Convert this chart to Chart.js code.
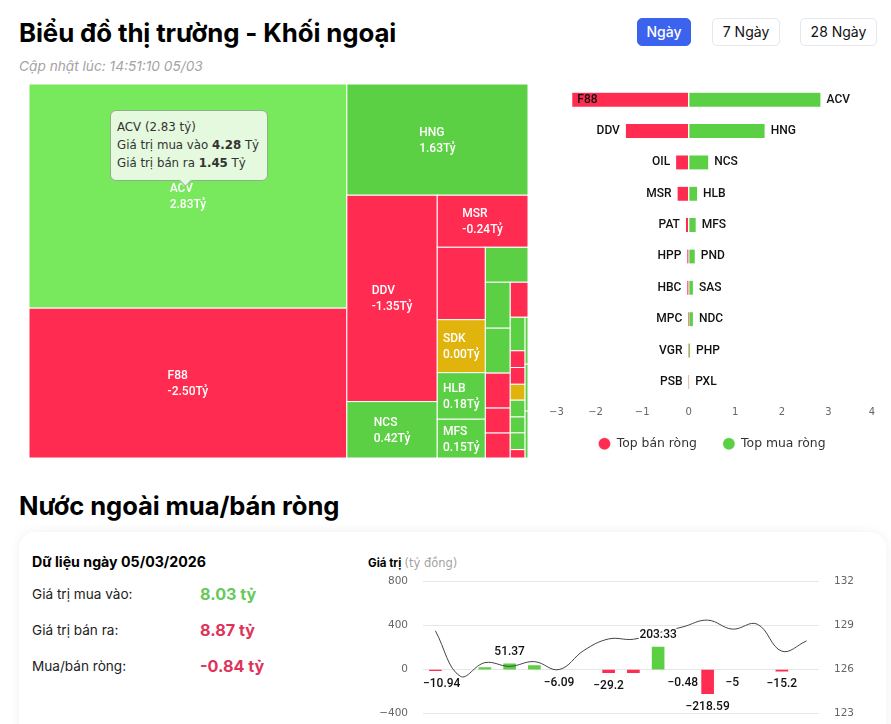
<!DOCTYPE html>
<html lang="vi">
<head>
<meta charset="utf-8">
<title>Biểu đồ thị trường - Khối ngoại</title>
<script src="https://cdn.jsdelivr.net/npm/chart.js@4"></script>
<style>
    html,body{margin:0;padding:0;width:891px;height:724px;overflow:hidden;background:#fff;font-family:Inter,sans-serif;color:#000;}
    .abs{position:absolute;white-space:nowrap;}
    canvas{position:absolute;display:block;}
    h1,h2{margin:0;font-weight:700;line-height:32px;letter-spacing:-0.1px;}
    h1{font-size:25.8px;}
    h2{font-size:25.6px;}
    .btn{box-sizing:border-box;height:28px;top:18px;border:1px solid #e5e7eb;border-radius:5px;font-size:14px;line-height:26px;text-align:center;color:#111;}
    .btn.on{background:#3b63ee;border-color:#3b63ee;color:#fff;font-weight:500;}
    .card{left:19px;top:532px;width:867px;height:300px;border-radius:16px;box-shadow:0 0 12px rgba(0,0,0,.06);background:#fff;}
    .row{left:32px;font-size:13.6px;color:#222;}
    .val{left:200px;font-size:16.2px;font-weight:700;}
    #tip{left:110px;top:110px;width:158px;height:71px;box-sizing:border-box;padding:7px 6px;background:#e4f9de;border:1px solid #8fae8a;border-radius:6px;
         font:11.8px/18px "DejaVu Sans",sans-serif;color:#333;}
    #tip:after{content:"";position:absolute;left:70px;top:65px;width:8px;height:8px;background:#e4f9de;border-right:1px solid #8fae8a;border-bottom:1px solid #8fae8a;transform:rotate(45deg);}
</style>
</head>
<body>
<h1 class="abs" style="left:19px;top:17px">Biểu đồ thị trường - Khối ngoại</h1>
<div class="abs" style="left:19px;top:58px;font-size:13.7px;font-style:italic;color:#a3a3a3">Cập nhật lúc: 14:51:10 05/03</div>
<div class="abs btn on" style="left:637px;width:54px">Ngày</div>
<div class="abs btn" style="left:712px;width:68px">7 Ngày</div>
<div class="abs btn" style="left:800px;width:77px">28 Ngày</div>

<canvas id="treemapChart" width="499" height="374" style="left:29px;top:84px"></canvas>
<div class="abs" id="tip"></div>
<canvas id="topChart" width="345" height="393" style="left:540px;top:84px"></canvas>

<h2 class="abs" style="left:19px;top:490px">Nước ngoài mua/bán ròng</h2>
<div class="abs card"></div>
<div class="abs" style="left:32px;top:553px;font-size:14.2px;font-weight:700">Dữ liệu ngày 05/03/2026</div>
<div class="abs row" style="top:586px">Giá trị mua vào:</div>
<div class="abs row" style="top:622px">Giá trị bán ra:</div>
<div class="abs row" style="top:658px">Mua/bán ròng:</div>
<div class="abs val" style="top:584px;color:#66c95a">8.03 tỷ</div>
<div class="abs val" style="top:620px;color:#e0335a">8.87 tỷ</div>
<div class="abs val" style="top:656px;color:#e0335a">-0.84 tỷ</div>
<div class="abs" style="left:368px;top:556px;font-size:11.5px"><b>Giá trị</b> <span style="color:#a3a3a3;font-family:'DejaVu Sans'">(tỷ đồng)</span></div>
<canvas id="flowChart" width="500" height="175" style="left:370px;top:560px"></canvas>

<script>
const RED = "#ff2b50";
const GREEN = "#5cd044";
const GREEN_HOVER = "#78e85c";
const YELLOW = "#e0b40c";

// -------------------- TREEMAP DATA --------------------
const cellNames = ["ACV","F88","HNG","DDV","NCS","MSR","OIL","SDK","HLB","MFS","PND","SAS","NDC","PAT","HPP","HBC","MPC","PHP","VGR","PSB","PXL","BSR","VTP","GEE","QNS","TCX","VEA","MCH"];
// buy + sell value, this is what sets the area of a cell
const cellSizes = [5.73,3.83,1.62,1.5,0.41,0.38,0.28,0.205,0.18,0.15,0.12,0.092,0.09,0.07,0.05,0.05,0.05,0.04,0.02,0.02,0.019,0.02,0.019,0.02,0.01,0.011,0.011,0.011];
const cellNet = [2.83,-2.5,1.63,-1.35,0.42,-0.24,-0.3,0,0.18,0.15,0.13,0.09,0.09,-0.06,-0.03,-0.03,-0.01,0.03,-0.005,-0.005,0,0.01,0.01,0.01,-0.003,0.004,0.003,0.002];
// how many cells go in each strip, strips alternate column / row
const stripCounts = [2,1,2,1,4,1,5,1,8,3];
const stripIsColumn = [true,false,true,false,true,false,true,false,true,true];
const labelledCells = ["ACV","F88","HNG","DDV","NCS","MSR","SDK","HLB","MFS"];
const hoverCell = "ACV";
const tipBuy = 4.28;
const tipSell = 1.45;

// -------------------- TOP NET BUY / SELL DATA --------------------
const sellNames = ["F88","DDV","OIL","MSR","PAT","HPP","HBC","MPC","VGR","PSB"];
const sellValues = [-2.5,-1.35,-0.27,-0.24,-0.06,-0.03,-0.03,-0.01,-0.005,-0.002];
const buyNames = ["ACV","HNG","NCS","HLB","MFS","PND","SAS","NDC","PHP","PXL"];
const buyValues = [2.83,1.63,0.42,0.18,0.15,0.13,0.09,0.09,0.03,0.01];

// -------------------- NET FLOW DATA --------------------
const sessionDates = ["09/02","10/02","11/02","12/02","13/02","23/02","24/02","25/02","26/02","27/02","02/03","03/03","04/03","05/03a","05/03b","05/03"];
const netValues = [-10.94,null,18,51.37,36,-6.09,null,-29.2,-29,203.33,-0.48,-218.59,-5,null,-15.2,-0.84];
const hiddenNetLabels = [2,4,8,15];
const indexValues = [128.64,125.55,126.47,126.22,126.54,126.0,127.3,128.08,128.06,128.5,128.9,129.36,128.75,129.09,127.25,127.95];

function minusSign(v){ return String(v).replace("-","\u2212"); }

// -------------------- TREEMAP LAYOUT --------------------
// slices the unit square strip by strip, sizes only come from cellSizes
function layoutCells(){
    const cells = [];
    let rect = {x:0,y:0,w:1,h:1};
    let total = cellSizes.reduce((a,b)=>a+b,0);
    let idx = 0;
    stripCounts.forEach((count,s)=>{
        const sizes = cellSizes.slice(idx,idx+count);
        const sum = sizes.reduce((a,b)=>a+b,0);
        const share = sum/total;
        let offset = 0;
        sizes.forEach((size,i)=>{
            const part = size/sum;
            const c = stripIsColumn[s]
                ? {x:rect.x,y:rect.y+offset*rect.h,w:rect.w*share,h:rect.h*part}
                : {x:rect.x+offset*rect.w,y:rect.y,w:rect.w*part,h:rect.h*share};
            offset += part;
            c.name = cellNames[idx+i];
            c.net = cellNet[idx+i];
            cells.push(c);
        });
        if(stripIsColumn[s]){ rect = {x:rect.x+rect.w*share,y:rect.y,w:rect.w*(1-share),h:rect.h}; }
        else { rect = {x:rect.x,y:rect.y+rect.h*share,w:rect.w,h:rect.h*(1-share)}; }
        total -= sum;
        idx += count;
    });
    return cells;
}

const treemapCells = layoutCells();

const treemapPlugin = {
    id:"treemapCells",
    beforeDatasetsDraw(chart){
        const {ctx,scales:{x,y}} = chart;
        treemapCells.forEach(c=>{
            const x0 = x.getPixelForValue(c.x), x1 = x.getPixelForValue(c.x+c.w);
            const y0 = y.getPixelForValue(c.y), y1 = y.getPixelForValue(c.y+c.h);
            ctx.fillStyle = c.name===hoverCell ? GREEN_HOVER : c.net>0 ? GREEN : c.net<0 ? RED : YELLOW;
            ctx.fillRect(x0,y0,x1-x0,y1-y0);
            ctx.strokeStyle = "#fff";
            ctx.lineWidth = 1;
            ctx.strokeRect(x0,y0,x1-x0,y1-y0);
            if(labelledCells.includes(c.name)){
                const second = c.net.toFixed(2)+"Tỷ";
                ctx.font = '500 12px Roboto';
                ctx.fillStyle = "#fff";
                ctx.textBaseline = "middle";
                ctx.textAlign = "left";
                const left = (x0+x1)/2-ctx.measureText(second).width/2;
                ctx.fillText(c.name,left,(y0+y1)/2-7);
                ctx.fillText(second,left,(y0+y1)/2+9);
            }
        });
    }
};

new Chart(document.getElementById("treemapChart"),{
    type:"scatter",
    data:{datasets:[{label:"Khối ngoại",data:treemapCells.map(c=>({x:c.x+c.w/2,y:c.y+c.h/2})),pointRadius:0}]},
    options:{
        responsive:false,animation:false,
        plugins:{legend:{display:false},tooltip:{enabled:false}},
        scales:{x:{display:false,min:0,max:1},y:{display:false,min:0,max:1,reverse:true}}
    },
    plugins:[treemapPlugin]
});

const hoverIdx = cellNames.indexOf(hoverCell);
document.getElementById("tip").innerHTML = `${hoverCell} (${cellNet[hoverIdx].toFixed(2)} tỷ)<br>Giá trị mua vào <b>${tipBuy.toFixed(2)}</b> Tỷ<br>Giá trị bán ra <b>${tipSell.toFixed(2)}</b> Tỷ`;

// -------------------- TOP NET BUY / SELL --------------------
const endLabelPlugin = {
    id:"endLabels",
    afterLayout(chart){
        // legend padding also adds height, pull it back up next to the axis
        chart.legend.top -= 17;
        chart.legend.bottom -= 17;
    },
    afterDatasetsDraw(chart){
        const {ctx,chartArea} = chart;
        ctx.font = "500 12px Roboto";
        ctx.fillStyle = "#111";
        ctx.textBaseline = "middle";
        chart.getDatasetMeta(0).data.forEach((bar,i)=>{
            const w = ctx.measureText(sellNames[i]).width;
            ctx.textAlign = "left";
            // no room left of the bar, so the name goes inside it
            const px = bar.x-6-w < chartArea.left ? bar.x+5 : bar.x-6-w;
            ctx.fillText(sellNames[i],px,bar.y);
        });
        chart.getDatasetMeta(1).data.forEach((bar,i)=>{
            ctx.textAlign = "left";
            ctx.fillText(buyNames[i],bar.x+6,bar.y);
        });
    }
};

new Chart(document.getElementById("topChart"),{
    type:"bar",
    data:{
        labels:sellNames,
        datasets:[
            {label:"Top bán ròng",data:sellValues,backgroundColor:RED,borderColor:"#fff",borderWidth:{right:1},borderSkipped:false,barThickness:14},
            {label:"Top mua ròng",data:buyValues,backgroundColor:GREEN,borderColor:"#fff",borderWidth:{left:1},borderSkipped:false,barThickness:14}
        ]
    },
    options:{
        indexAxis:"y",responsive:false,animation:false,
        layout:{padding:{left:9,right:10,top:0,bottom:0}},
        plugins:{
            tooltip:{enabled:false},
            legend:{
                position:"bottom",
                labels:{usePointStyle:true,pointStyle:"circle",boxWidth:12,boxHeight:8.5,padding:26,color:"#333",font:{family:"DejaVu Sans",size:12.4}}
            }
        },
        scales:{
            y:{display:false,stacked:true},
            x:{
                stacked:true,min:-3.0,max:4,
                border:{display:false},
                grid:{display:false,drawTicks:false},
                afterFit(s){ s.height = 31; },
                ticks:{stepSize:1,padding:9,align:"inner",color:"#666",font:{family:"DejaVu Sans",size:10},callback:v=>minusSign(v)}
            }
        }
    },
    plugins:[endLabelPlugin]
});

// -------------------- NET FLOW --------------------
const netLabelPlugin = {
    id:"netLabels",
    afterDatasetsDraw(chart){
        const {ctx,chartArea} = chart;
        const meta = chart.getDatasetMeta(1);
        ctx.font = "500 12px Roboto";
        ctx.textBaseline = "middle";
        ctx.textAlign = "left";
        ctx.lineJoin = "round";
        meta.data.forEach((bar,i)=>{
            const v = netValues[i];
            if(v===null || hiddenNetLabels.includes(i)) return;
            const text = minusSign(v);
            const w = ctx.measureText(text).width;
            const px = Math.max(bar.x-w/2,chartArea.left);
            const py = v<0 ? bar.y+13 : bar.y-12;
            ctx.strokeStyle = "#fff";
            ctx.lineWidth = 3;
            ctx.strokeText(text,px,py);
            ctx.fillStyle = "#111";
            ctx.fillText(text,px,py);
        });
    }
};

// bars under 1px only show as a stain on the zero line, the original has none
const netColors = netValues.map(v=>Math.abs(v)<7?"transparent":v>=0?GREEN:RED);

new Chart(document.getElementById("flowChart"),{
    type:"bar",
    data:{
        labels:sessionDates,
        datasets:[
            {type:"line",label:"VN-Index",data:indexValues,yAxisID:"yIndex",borderColor:"#444",borderWidth:1,pointRadius:0,tension:0.4,order:0},
            {type:"bar",label:"Giá trị",data:netValues,yAxisID:"yValue",backgroundColor:netColors,barThickness:12,order:1}
        ]
    },
    options:{
        responsive:false,animation:false,
        layout:{padding:{top:9,bottom:11}},
        plugins:{legend:{display:false},tooltip:{enabled:false}},
        scales:{
            x:{display:false},
            yValue:{
                position:"left",min:-400,max:800,
                border:{display:false},
                grid:{color:"#e6e6e6",drawTicks:false},
                afterFit(s){ s.width = 53; },
                ticks:{stepSize:400,padding:15,color:"#666",font:{family:"DejaVu Sans",size:10.5},callback:v=>minusSign(v)}
            },
            yIndex:{
                position:"right",min:123,max:132,
                border:{display:false},
                grid:{display:false,drawTicks:false},
                afterFit(s){ s.width = 51; },
                ticks:{stepSize:3,padding:15,color:"#666",font:{family:"DejaVu Sans",size:10.5}}
            }
        }
    },
    plugins:[netLabelPlugin]
});
</script>
</body>
</html>
